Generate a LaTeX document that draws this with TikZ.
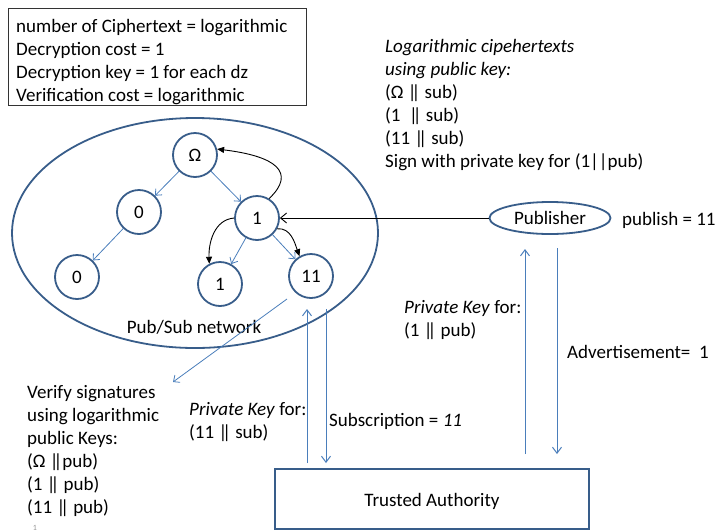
\documentclass[tikz,border=0pt]{standalone}
\usepackage{fontspec}
\setmainfont{Carlito}
\usetikzlibrary{arrows.meta,shapes.geometric}
\definecolor{ringblue}{RGB}{56,93,138}
\definecolor{linkblue}{RGB}{74,126,187}
\definecolor{slidegrey}{RGB}{150,150,150}
% tight double bar used for concatenation
\newcommand{\cat}{|\kern-5pt|}
\begin{document}
\begin{tikzpicture}[x=1pt,y=-1pt,
  txt/.style={font=\fontsize{19}{23}\selectfont, inner sep=0pt, align=left},
  tnode/.style={circle, draw=ringblue, line width=1.8pt, minimum size=44pt,
    inner sep=0pt, font=\fontsize{19}{23}\selectfont},
  treelink/.style={draw=linkblue, line width=0.8pt,
    -{Straight Barb[length=5pt,width=9pt]}},
  flow/.style={black, line width=0.9pt, -{Triangle[length=7pt,width=6pt]}},
  keyline/.style={draw=linkblue, line width=1pt,
    -{Straight Barb[length=6pt,width=9pt]}},
]
\useasboundingbox (0,0) rectangle (716,531);

% cost summary box
\draw[black!80, line width=0.8pt] (8,8) rectangle (306,105);
\node[txt, anchor=north west] (costs) at (16,15.9)
  {\strut number of Ciphertext = logarithmic\\
   Decryption cost = 1\\
   Decryption key = 1 for each dz\\
   Verification cost = logarithmic};

% ciphertext notes
\node[txt, anchor=north west] (cipher) at (385,35.9)
  {\strut\textit{Logarithmic cipehertexts}\\
   \textit{using public key:}\\
   (Ω \cat{} sub)\\
   (1~ \cat{} sub)\\
   (11 \cat{} sub)\\
   Sign with private key for (1||pub)};

% pub/sub network
\draw[ringblue, line width=1.8pt] (195,233) ellipse [x radius=183pt, y radius=115pt];
\node[txt, anchor=base] (netlabel) at (194,333) {Pub/Sub network};

\node[tnode] (om) at (195,155) {Ω};
\node[tnode] (a0) at (139,212) {0};
\node[tnode] (a1) at (257,218) {1};
\node[tnode] (b0) at (77,277) {0};
\node[tnode] (b1) at (220,284) {1};
\node[tnode] (b11) at (311,276) {11};

\draw[treelink] (om) -- (a0);
\draw[treelink] (om) -- (a1);
\draw[treelink] (a0) -- (b0);
\draw[treelink] (a1) -- (b1);
\draw[treelink] (a1) -- (b11);

\draw[flow] (a1.58) .. controls (297,172) and (275,156) .. (om.15);
\draw[flow] (a1.west) to[out=185,in=92] (b1.118);
\draw[flow] (a1.-28) to[out=5,in=110] (b11.120);

% publisher
\node[ellipse, draw=ringblue, line width=1.8pt, minimum width=121pt,
  minimum height=32pt, inner sep=0pt, font=\fontsize{19}{23}\selectfont]
  (pub) at (550,218) {Publisher};
\node[txt, anchor=base west] (pubval) at (622,225) {publish = 11};
\draw[black, line width=0.9pt, -{Straight Barb[length=6pt,width=10pt]}]
  (pub.west) -- (a1.east);

% verification
\coordinate (vstart) at (287,299);
\coordinate (vend) at (173,382);
\draw[treelink] (vstart) -- (vend);
\node[txt, anchor=north west] (verify) at (27,381.9)
  {\strut Verify signatures\\
   using logarithmic\\
   public Keys:\\
   (Ω \cat{}pub)\\
   (1 \cat{} pub)\\
   (11 \cat{} pub)};

% trusted authority
\node[draw=ringblue, line width=1.8pt, minimum width=314pt, minimum height=60pt,
  inner sep=0pt, font=\fontsize{19}{23}\selectfont] (ta) at (432,499) {};
\node[txt, anchor=base] (talabel) at (432,506) {Trusted Authority};

% subscriber key exchange
\coordinate (su0) at (307,463);
\coordinate (su1) at (307,309);
\coordinate (sd0) at (326,309);
\coordinate (sd1) at (326,463);
\draw[keyline] (su0) -- (su1);
\draw[keyline] (sd0) -- (sd1);
\node[txt, anchor=north west] (subkey) at (189,398.9)
  {\strut\textit{Private Key} for:\\(11 \cat{} sub)};
\node[txt, anchor=base west] (subs) at (329,426) {Subscription = \textit{11}};

% publisher key exchange
\coordinate (pu0) at (525,454);
\coordinate (pu1) at (525,249);
\coordinate (pd0) at (557,248);
\coordinate (pd1) at (557,454);
\draw[keyline] (pu0) -- (pu1);
\draw[keyline] (pd0) -- (pd1);
\node[txt, anchor=north west] (pubkey) at (404,296.9)
  {\strut\textit{Private Key} for:\\(1 \cat{} pub)};
\node[txt, anchor=base west] (adv) at (567,358) {Advertisement=~ 1};

% slide number
\node[font=\fontsize{8}{9}\selectfont, text=slidegrey, inner sep=0pt, anchor=base]
  (slideno) at (35,530) {1};
\end{tikzpicture}
\end{document}
